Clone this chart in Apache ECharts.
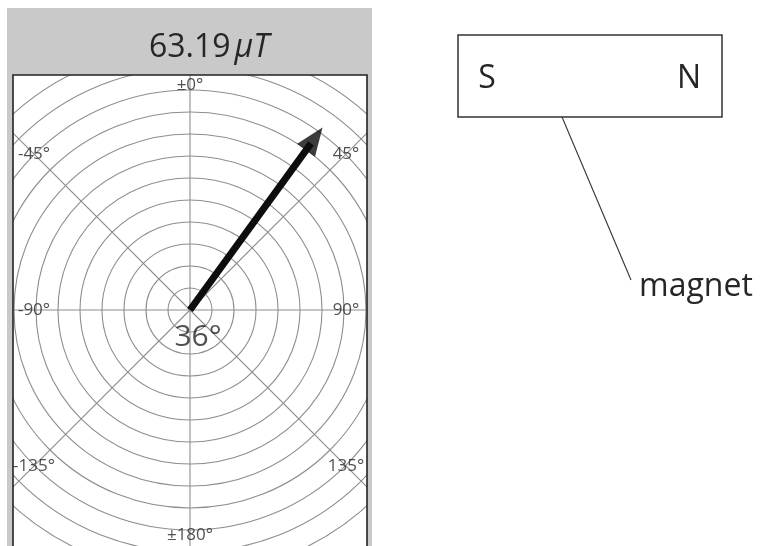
<!DOCTYPE html>
<html>
<head>
<meta charset="utf-8">
<style>html,body{margin:0;padding:0;background:#fff;}#c{width:761px;height:546px;}</style>
<script src="https://cdn.jsdelivr.net/npm/echarts@6/dist/echarts.min.js"></script>
</head>
<body>
<div id="c"></div>
<script>
// ---- data ----
const fieldValue = 63.19;          // field strength shown in header
const fieldUnit = 'μT';
const headingDeg = 36;             // arrow direction, degrees clockwise from top
const arrowLength = 10.25;         // arrow length in ring units
const ringCount = 12;              // concentric rings
const angleTicks = [0, 45, 90, 135, 180, 225, 270, 315];
const angleTickLabels = ['±0°', '45°', '90°', '135°', '±180°', '-135°', '-90°', '-45°'];
const magnetPoles = ['S', 'N'];
const magnetLabel = 'magnet';

// ---- layout ----
const cx = 190, cy = 310, unitPx = 22;
const box = {x0: 13, y0: 75, x1: 367, y1: 546};
const font = '"Open Sans", "Noto Sans", sans-serif';
const textColor = '#262626';
const gridColor = '#8e8e8e';

// label radius: where each spoke meets an inset rectangle
function labelRadius(a) {
  const r = a * Math.PI / 180;
  const s = Math.abs(Math.sin(r)), c = Math.abs(Math.cos(r));
  const hw = 156, hh = 225;
  const rs = s > 1e-6 ? hw / s : Infinity;
  const rc = c > 1e-6 ? hh / c : Infinity;
  return Math.min(rs, rc) / unitPx;
}

const headLen = 28;
const headPos = arrowLength - (headLen / 2) / unitPx;
const shaftEnd = arrowLength - (headLen * 0.7) / unitPx;

const chart = echarts.init(document.getElementById('c'), null, {renderer: 'canvas'});
chart.setOption({
  animation: false,
  polar: {center: [cx, cy], radius: ringCount * unitPx},
  radiusAxis: {
    type: 'value', min: 0, max: ringCount, interval: 1,
    axisLine: {show: false}, axisTick: {show: false}, axisLabel: {show: false},
    splitLine: {show: true, lineStyle: {color: gridColor, width: 1.1}}
  },
  angleAxis: {
    type: 'value', min: 0, max: 360, interval: 45, startAngle: 90, clockwise: true,
    axisLine: {show: false}, axisTick: {show: false}, axisLabel: {show: false},
    splitLine: {show: true, lineStyle: {color: gridColor, width: 1.1}}
  },
  series: [
    {
      type: 'line', coordinateSystem: 'polar', z: 5,
      data: [[0, headingDeg], [shaftEnd, headingDeg]],
      symbol: 'none',
      lineStyle: {color: '#0d0d0d', width: 7, cap: 'butt'}
    },
    {
      type: 'scatter', coordinateSystem: 'polar', z: 6,
      data: [[headPos, headingDeg]],
      symbol: 'triangle', symbolSize: [22, headLen], symbolRotate: -headingDeg,
      itemStyle: {color: '#0d0d0d'}
    },
    {
      type: 'scatter', coordinateSystem: 'polar', z: 7,
      data: [[0, headingDeg]],
      symbol: 'circle', symbolSize: 1, itemStyle: {color: 'rgba(0,0,0,0)'},
      label: {show: true, position: 'inside', offset: [8, 27],
        formatter: headingDeg + '°', fontSize: 30, fontFamily: font, color: textColor}
    },
    {
      type: 'scatter', coordinateSystem: 'polar', z: 7,
      data: angleTicks.map((a, i) => ({value: [labelRadius(a), a], name: angleTickLabels[i]})),
      symbol: 'circle', symbolSize: 1, itemStyle: {color: 'rgba(0,0,0,0)'},
      label: {show: true, position: 'inside', formatter: p => p.name,
        fontSize: 17, fontFamily: font, color: textColor}
    }
  ],
  graphic: [
    // masks outside the dial box
    {type: 'rect', z: 50, shape: {x: 0, y: 0, width: 7, height: 546}, style: {fill: '#fff'}},
    {type: 'rect', z: 50, shape: {x: 0, y: 0, width: 372, height: 8}, style: {fill: '#fff'}},
    {type: 'rect', z: 50, shape: {x: 372, y: 0, width: 389, height: 546}, style: {fill: '#fff'}},
    {type: 'rect', z: 51, shape: {x: 7, y: 8, width: 365, height: box.y0 - 8}, style: {fill: '#c9c9c9'}},
    {type: 'rect', z: 51, shape: {x: 7, y: box.y0, width: box.x0 - 7, height: 546 - box.y0}, style: {fill: '#c9c9c9'}},
    {type: 'rect', z: 51, shape: {x: box.x1, y: box.y0, width: 372 - box.x1, height: 546 - box.y0}, style: {fill: '#c9c9c9'}},
    {type: 'polyline', z: 52, shape: {points: [[box.x0, 546], [box.x0, box.y0], [box.x1, box.y0], [box.x1, 546]]},
      style: {stroke: '#222', lineWidth: 1.6, fill: null}},
    // header value
    {type: 'text', z: 53, x: 209, y: 48,
      style: {text: '{n|' + fieldValue.toFixed(2) + '}{u|' + fieldUnit + '}', align: 'center', verticalAlign: 'middle',
        rich: {
          n: {fontSize: 32, fontFamily: font, fill: textColor, color: textColor},
          u: {fontSize: 32, fontFamily: font, fontStyle: 'italic', fill: textColor, color: textColor, padding: [0, 0, 0, 4]}
        }}},
    // magnet
    {type: 'rect', z: 53, shape: {x: 458, y: 35, width: 264, height: 82},
      style: {fill: '#fff', stroke: '#333', lineWidth: 1.5}},
    {type: 'text', z: 54, x: 487, y: 79,
      style: {text: magnetPoles[0], align: 'center', verticalAlign: 'middle', fontSize: 32, fontFamily: font, fill: textColor}},
    {type: 'text', z: 54, x: 689, y: 79,
      style: {text: magnetPoles[1], align: 'center', verticalAlign: 'middle', fontSize: 32, fontFamily: font, fill: textColor}},
    {type: 'line', z: 53, shape: {x1: 562, y1: 117, x2: 631, y2: 280}, style: {stroke: '#333', lineWidth: 1.1}},
    {type: 'text', z: 54, x: 639, y: 287,
      style: {text: magnetLabel, align: 'left', verticalAlign: 'middle', fontSize: 32, fontFamily: font, fill: textColor}}
  ]
});
</script>
</body>
</html>
